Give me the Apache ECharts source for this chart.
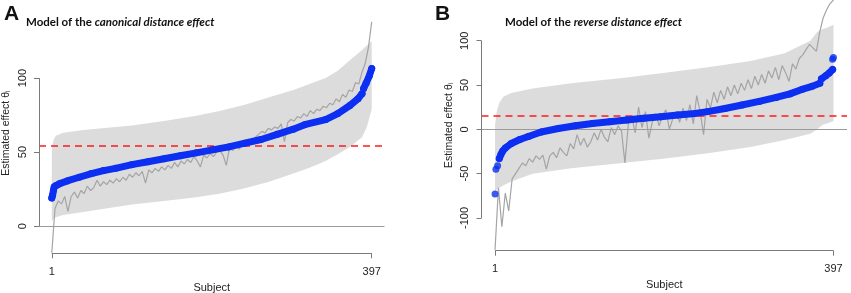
<!DOCTYPE html>
<html>
<head>
<meta charset="utf-8">
<script src="https://cdn.jsdelivr.net/npm/echarts@6/dist/echarts.min.js"></script>
<style>
  html, body { margin: 0; background: #fff; }
  #chart { width: 851px; height: 293px; }
</style>
</head>
<body>
<div id="chart"></div>
<script>
// ---- panel A: canonical distance effect ----
const xTicks = [1, 397];
const yTicksA = [0, 50, 100];
const grandMeanA = 54;
// [subject, lower, upper] of the posterior interval
const bandA = [
  [1, 3, 52], [3, 5, 58], [6, 6, 61], [15, 7.5, 63], [40, 9.5, 65], [70, 12, 66.5],
  [100, 14.5, 68], [140, 17, 71], [180, 19.5, 74.5], [210, 22, 78], [240, 25.5, 82],
  [270, 30, 87], [300, 35.5, 92], [320, 39.5, 96], [340, 44, 100], [355, 48.5, 105],
  [370, 53.5, 112], [385, 60, 119], [391, 67, 122], [397, 79, 125]
];
// raw per-subject estimates (grey line)
const rawA = [
  [1, -18], [5, 12], [9, 17], [13, 15], [17, 20], [21, 10], [25, 20], [29, 23], [33, 19], [37, 24],
  [41, 22], [45, 27], [49, 24], [53, 26], [57, 31], [61, 27], [65, 30], [69, 28], [73, 31], [77, 29],
  [81, 32], [85, 30], [89, 33], [93, 31], [97, 35], [101, 33], [105, 36], [109, 34], [113, 37], [117, 29],
  [121, 38], [125, 36], [129, 39], [133, 37], [137, 40], [141, 38], [145, 41], [149, 39], [153, 43], [157, 40],
  [161, 44], [165, 42], [169, 45], [173, 43], [177, 47], [181, 44], [185, 40], [189, 48], [193, 46], [197, 49],
  [201, 47], [205, 50], [209, 51], [213, 48], [217, 41], [221, 53], [225, 51], [229, 54], [233, 52], [237, 56],
  [241, 54], [245, 58], [249, 56], [253, 60], [257, 62], [261, 64], [265, 63], [269, 66], [273, 65], [277, 67],
  [281, 66], [285, 69], [289, 57], [293, 70], [297, 72], [301, 71], [305, 74], [309, 73], [313, 76], [317, 74],
  [321, 78], [325, 76], [329, 79], [333, 78], [337, 81], [341, 80], [345, 83], [349, 82], [353, 86], [357, 84],
  [361, 89], [365, 87], [369, 92], [373, 91], [377, 97], [381, 96], [385, 104], [389, 110], [393, 121], [397, 138]
];
// model estimates (blue dots), two runs
const blueA1 = [
  [1, 19], [2, 21], [3, 24], [4, 26.5], [6, 27.5], [10, 28.5], [20, 30.5], [35, 33], [50, 35.5],
  [65, 37.5], [80, 39], [100, 41.5], [120, 43.5], [140, 45.5], [160, 47.5], [180, 49.5], [200, 51.5],
  [220, 53.5], [240, 56], [260, 58.5], [280, 62], [300, 65.5], [314, 68.5], [340, 72], [355, 76],
  [370, 81.5], [380, 86], [385, 89.5]
];
const blueA2 = [[387, 93], [390, 96.5], [394, 101.5], [397, 106.5]];
const dotsA = [];

// ---- panel B: reverse distance effect ----
const yTicksB = [-100, -50, 0, 50, 100];
const grandMeanB = 15;
const bandB = [
  [1, -70, 5], [3, -68, 20], [6, -66, 30], [11, -63, 37], [20, -59, 41], [45, -50, 46], [90, -44, 52],
  [150, -38, 58], [200, -33, 64], [250, -27, 70], [300, -20, 77], [340, -12, 86], [370, -5, 100],
  [378, 0, 110], [384, 5, 113], [390, 7, 115], [397, 9, 118]
];
const rawB = [
  [1, -136], [5, -66], [9, -110], [13, -72], [17, -92], [21, -56], [25, -50], [29, -44], [33, -38], [37, -41],
  [41, -33], [45, -37], [49, -30], [53, -34], [57, -29], [61, -45], [65, -30], [69, -26], [73, -32], [77, -21],
  [81, -26], [85, -30], [89, -16], [93, -22], [97, -6], [101, -18], [105, -10], [109, -20], [113, -14], [117, -4],
  [121, -12], [125, 0], [129, -9], [133, -14], [137, 2], [141, -6], [145, 4], [149, -2], [153, -38], [157, 6],
  [161, 14], [165, -4], [169, 25], [173, 2], [177, 20], [181, -10], [185, 8], [189, 18], [193, 4], [197, 16],
  [201, 22], [205, 0], [209, 12], [213, 20], [217, 8], [221, 24], [225, 10], [229, 28], [233, 6], [237, 38],
  [241, 20], [245, -6], [249, 34], [253, 24], [257, 42], [261, 30], [265, 44], [269, 34], [273, 48], [277, 38],
  [281, 50], [285, 40], [289, 52], [293, 44], [297, 56], [301, 46], [305, 60], [309, 50], [313, 62], [317, 52],
  [321, 66], [325, 58], [329, 70], [333, 56], [337, 72], [341, 64], [345, 54], [349, 74], [353, 68], [357, 80],
  [361, 84], [365, 90], [369, 96], [373, 92], [377, 88], [381, 110], [385, 126], [389, 135], [393, 142], [397, 146]
];
const blueB1 = [
  [6, -33], [8, -28], [10, -24.5], [13, -21], [20, -16], [30, -11.5], [40, -8], [55, -3], [75, 1],
  [95, 4], [115, 6.5], [135, 8.5], [155, 10.5], [175, 12.5], [195, 14.3], [215, 16.3], [235, 18],
  [250, 20], [270, 23.5], [290, 27.5], [310, 31.5], [330, 36], [346, 40], [360, 45], [372, 48.5], [381, 52]
];
const blueB2 = [[383, 57], [388, 60.5], [392, 63.5], [396, 67.5]];
const dotsB = [[1, -73], [2, -45], [4, -41], [396, 79], [397, 81]];

const XMIN = -14.84, XMAX = 412.84;
const AXIS = '#7a7a7a';
const FONT = 'Liberation Sans, Arial, sans-serif';

const chart = echarts.init(document.getElementById('chart'), null, { renderer: 'canvas' });

function panel(i, band, raw, blues, dots, mean, yMin, yTopTick, yBotTick) {
  const list = [];
  list.push({
    type: 'custom',
    xAxisIndex: i, yAxisIndex: i,
    silent: true,
    data: band,
    renderItem: (params, api) => {
      if (params.dataIndex !== 0) return;
      const top = band.map((r) => api.coord([r[0], r[2]]));
      const bot = band.map((r) => api.coord([r[0], r[1]])).reverse();
      return { type: 'polygon', shape: { points: top.concat(bot) }, style: { fill: '#dcdcdc' } };
    },
    z: 1,
  });
  list.push({
    type: 'line',
    xAxisIndex: i, yAxisIndex: i,
    data: raw,
    showSymbol: false,
    lineStyle: { color: '#a4a4a4', width: 1.2 },
    silent: true,
    z: 3,
    markLine: {
      silent: true,
      symbol: 'none',
      label: { show: false },
      animation: false,
      data: [
        { yAxis: 0, lineStyle: { color: '#9a9a9a', width: 1, type: 'solid' } },
        { yAxis: mean, lineStyle: { color: '#ff1a1a', width: 1.6, type: [7, 5] } },
        [{ coord: [XMIN, yBotTick], lineStyle: { color: AXIS, width: 1, type: 'solid' } }, { coord: [XMIN, yTopTick] }],
        [{ coord: [1, yMin], lineStyle: { color: AXIS, width: 1, type: 'solid' } }, { coord: [397, yMin] }],
      ],
    },
  });
  blues.forEach((b) => list.push({
    type: 'line',
    xAxisIndex: i, yAxisIndex: i,
    data: b,
    symbol: 'circle', symbolSize: 7, showSymbol: true,
    itemStyle: { color: '#0c2ff2' },
    lineStyle: { color: '#0c2ff2', width: 7, cap: 'round', join: 'round' },
    silent: true,
    z: 5,
  }));
  if (dots.length) list.push({
    type: 'scatter',
    xAxisIndex: i, yAxisIndex: i,
    data: dots,
    symbolSize: 7,
    itemStyle: { color: '#0c2ff2' },
    silent: true,
    z: 5,
  });
  return list;
}

function xAxis(i) {
  return {
    gridIndex: i, type: 'value', min: XMIN, max: XMAX,
    axisLine: { show: false, onZero: false },
    axisTick: { show: true, length: 5, customValues: xTicks, lineStyle: { color: AXIS } },
    axisLabel: { customValues: xTicks, margin: 13, fontSize: 11, color: '#222', fontFamily: FONT },
    splitLine: { show: false },
    name: 'Subject', nameLocation: 'middle', nameGap: 27,
    nameTextStyle: { fontSize: 11, color: '#222', fontFamily: FONT },
  };
}

function yAxis(i, min, max, ticks) {
  return {
    gridIndex: i, type: 'value', min: min, max: max,
    axisLine: { show: false, onZero: false },
    axisTick: { show: true, length: 5, customValues: ticks, lineStyle: { color: AXIS } },
    axisLabel: { customValues: ticks, rotate: 90, margin: 11, fontSize: 11, color: '#222', fontFamily: FONT },
    splitLine: { show: false },
    name: '{a|Estimated effect θ}{b|i}', nameLocation: 'middle', nameRotate: 90, nameGap: 27,
    nameTextStyle: {
      rich: {
        a: { fontSize: 10.5, color: '#222', fontFamily: FONT },
        b: { fontSize: 7, color: '#222', fontFamily: FONT, verticalAlign: 'bottom', padding: [4, 0, 0, 0] },
      },
    },
  };
}

const titleRich = (word) => ({
  text: '{n|Model of the }{i|' + word + ' distance effect}',
  textStyle: {
    rich: {
      n: { fontFamily: 'Lato', fontWeight: 'bold', fontSize: 11.5, color: '#111' },
      i: { fontFamily: 'Lato', fontWeight: 'bold', fontStyle: 'italic', fontSize: 11.5, color: '#111' },
    },
  },
});

chart.setOption({
  animation: false,
  backgroundColor: '#fff',
  title: [
    { text: 'A', left: -1, top: -1, textStyle: { fontFamily: FONT, fontWeight: 'bold', fontSize: 21, color: '#111' } },
    Object.assign({ left: 21, top: 11 }, titleRich('canonical')),
    { text: 'B', left: 430, top: -1, textStyle: { fontFamily: FONT, fontWeight: 'bold', fontSize: 21, color: '#111' } },
    Object.assign({ left: 500, top: 11 }, titleRich('reverse')),
  ],
  grid: [
    { left: 39, right: 466.5, top: 13, bottom: 39.7, outerBoundsMode: 'none' },
    { left: 481.5, right: 4, top: 0, bottom: 42.3, outerBoundsMode: 'none' },
  ],
  xAxis: [xAxis(0), xAxis(1)],
  yAxis: [yAxis(0, -18.4, 144, yTicksA), yAxis(1, -137, 146, yTicksB)],
  series: [
    ...panel(0, bandA, rawA, [blueA1, blueA2], dotsA, grandMeanA, -18.4, 100, 0),
    ...panel(1, bandB, rawB, [blueB1, blueB2], dotsB, grandMeanB, -137, 100, -100),
  ],
});
</script>
</body>
</html>
